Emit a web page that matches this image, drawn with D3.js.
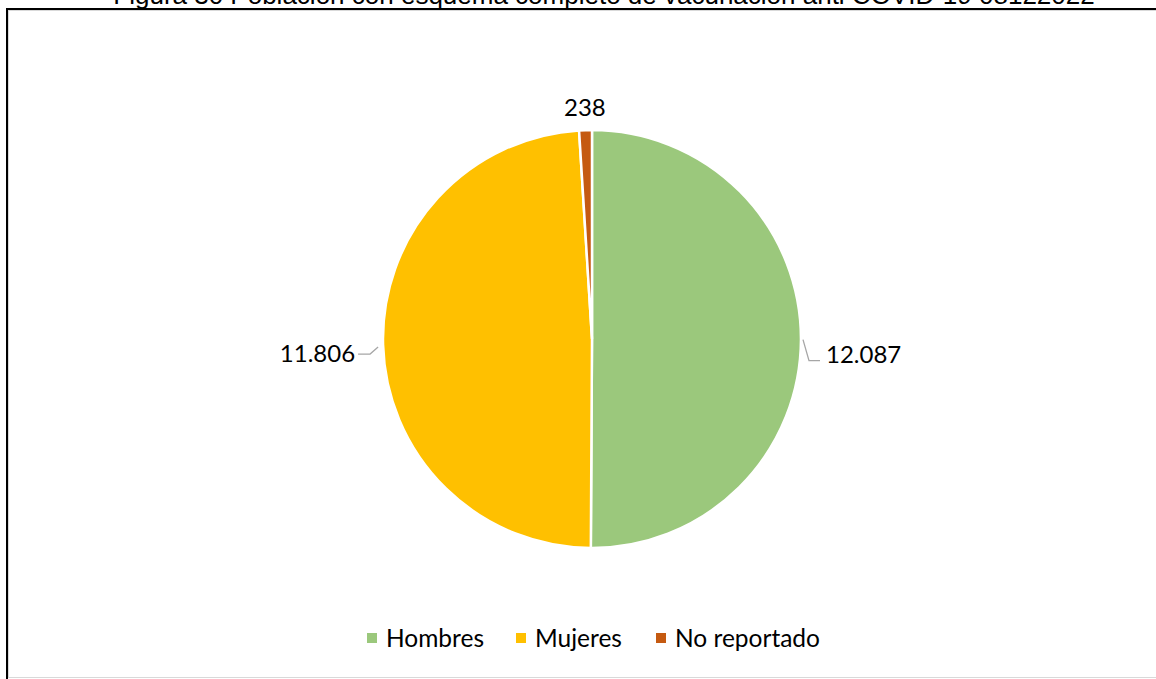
<!DOCTYPE html>
<html><head><meta charset="utf-8">
<script src="https://cdn.jsdelivr.net/npm/d3@7"></script>
<style>html,body{margin:0;padding:0;background:#fff;overflow:hidden}</style>
</head><body>
<svg id="chart" width="1156" height="679"></svg>
<script>
const title = "Figura 30 Población con esquema completo de vacunación anti COVID-19 08122022";
const categories = ["Hombres", "Mujeres", "No reportado"];
const values = [12087, 11806, 238];
const labels = ["12.087", "11.806", "238"];
const colors = ["#9BC87C", "#FFC000", "#C55A11"];

const W = 1156, H = 679;
const svg = d3.select("#chart");
const font = "Lato, 'Open Sans', sans-serif";

// frame
svg.append("rect").attr("x", 8.5).attr("y", 10.5).attr("width", W + 10).attr("height", 667)
  .attr("fill", "none").attr("stroke", "#D9D9D9").attr("stroke-width", 1);
svg.append("line").attr("x1", 6).attr("x2", W).attr("y1", 9).attr("y2", 9).attr("stroke", "#000").attr("stroke-width", 2);
svg.append("line").attr("x1", 7).attr("x2", 7).attr("y1", 8).attr("y2", H).attr("stroke", "#000").attr("stroke-width", 2);

// title (cut off at top, as in the source)
svg.append("text").attr("x", 604).attr("y", 4).attr("text-anchor", "middle")
  .attr("font-family", "'Liberation Sans', Arial, sans-serif").attr("font-size", 26)
  .attr("fill", "#000").text(title);

const cx = 592, cy = 339, r = 209;
const pie = d3.pie().sort(null).value(d => d)(values);
const arc = d3.arc().innerRadius(0).outerRadius(r);
const g = svg.append("g").attr("transform", `translate(${cx},${cy})`);

g.selectAll("path.slice").data(pie).enter().append("path")
  .attr("class", "slice").attr("d", arc)
  .attr("fill", (d, i) => colors[i]).attr("stroke", "#fff").attr("stroke-width", 2.5);

const mid = d => (d.startAngle + d.endAngle) / 2;
const pt = (a, rad) => [Math.sin(a) * rad, -Math.cos(a) * rad];
const addText = (x, y, anchor, t) => g.append("text").attr("x", x).attr("y", y)
  .attr("text-anchor", anchor).attr("font-family", font).attr("font-size", 24)
  .attr("fill", "#000").text(t);
const leader = pts => g.append("polyline").attr("points", pts.map(p => p.join(",")).join(" "))
  .attr("fill", "none").attr("stroke", "#A6A6A6").attr("stroke-width", 1.3);

// Hombres (right)
{
  const a = mid(pie[0]);
  const p0 = pt(a, r + 2);
  const p1 = [p0[0] + 6, p0[1] + 21];
  const p2 = [p1[0] + 11, p1[1]];
  leader([p0, p1, p2]);
  addText(p2[0] + 6, p2[1] + 2, "start", labels[0]);
}
// Mujeres (left)
{
  const a = mid(pie[1]);
  const b = pt(a, r + 5);
  const p0 = [b[0], b[1] + 2];
  const p1 = [p0[0] - 8, p0[1] + 7];
  const p2 = [p1[0] - 12, p1[1]];
  leader([p0, p1, p2]);
  addText(p2[0] - 3, p1[1] + 8, "end", labels[1]);
}
// No reportado (top)
{
  const a = mid(pie[2]);
  const p = pt(a, r + 22);
  addText(p[0], p[1] + 8, "middle", labels[2]);
}

// legend
const legendX = [367, 516, 656];
const lg = svg.append("g");
categories.forEach((c, i) => {
  lg.append("rect").attr("x", legendX[i]).attr("y", 633).attr("width", 10).attr("height", 10).attr("fill", colors[i]);
  lg.append("text").attr("x", legendX[i] + 19).attr("y", 647).attr("font-family", font).attr("font-size", 24.5)
    .attr("fill", "#000").text(c);
});
</script>
</body></html>
